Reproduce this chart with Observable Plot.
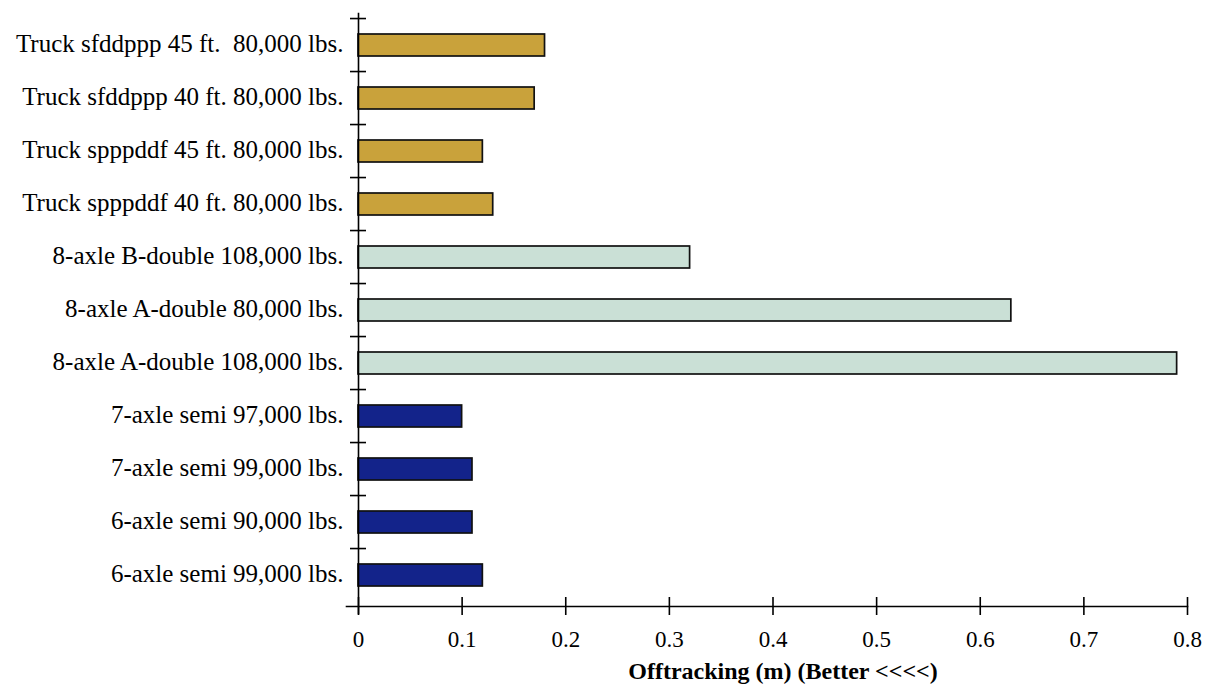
<!DOCTYPE html>
<html>
<head>
<meta charset="utf-8">
<script src="https://cdn.jsdelivr.net/npm/d3@7"></script>
<script src="https://cdn.jsdelivr.net/npm/@observablehq/plot@0.6"></script>
<style>
  html, body { margin: 0; padding: 0; background: #fff; }
</style>
</head>
<body>
<div id="chart"></div>
<script>
const categories = [
  "Truck sfddppp 45 ft.  80,000 lbs.",
  "Truck sfddppp 40 ft. 80,000 lbs.",
  "Truck spppddf 45 ft. 80,000 lbs.",
  "Truck spppddf 40 ft. 80,000 lbs.",
  "8-axle B-double 108,000 lbs.",
  "8-axle A-double 80,000 lbs.",
  "8-axle A-double 108,000 lbs.",
  "7-axle semi 97,000 lbs.",
  "7-axle semi 99,000 lbs.",
  "6-axle semi 90,000 lbs.",
  "6-axle semi 99,000 lbs."
];
const values = [0.18, 0.17, 0.12, 0.13, 0.32, 0.63, 0.79, 0.10, 0.11, 0.11, 0.12];
const groups = ["truck", "truck", "truck", "truck", "double", "double", "double", "semi", "semi", "semi", "semi"];
const groupNames = ["truck", "double", "semi"];
const groupColors = ["#C9A23B", "#CAE0D6", "#13238A"];
const xTicks = [0, 0.1, 0.2, 0.3, 0.4, 0.5, 0.6, 0.7, 0.8];
const xLabel = "Offtracking (m) (Better <<<<)";

const data = categories.map((c, i) => ({category: c, value: values[i], group: groups[i]}));

const W = 1207, H = 684, mL = 358, mR = 20, mT = 13, mB = 78;
const step = (H - mT - mB) / categories.length;

const chart = Plot.plot({
  width: W, height: H,
  marginLeft: mL, marginRight: mR, marginTop: mT, marginBottom: mB,
  style: {fontFamily: "'Liberation Serif', serif", fontSize: "23px", color: "#000", background: "#fff", overflow: "visible"},
  x: {domain: [0, 0.8], label: null},
  y: {domain: categories, paddingInner: 0.585, paddingOuter: 0.2925, label: null},
  color: {domain: groupNames, range: groupColors},
  marks: [
    Plot.barX(data, {x: "value", y: "category", fill: "group", stroke: "#111", strokeWidth: 1.7}),
    Plot.frame({anchor: "bottom", insetLeft: -12, strokeWidth: 1.6}),
    Plot.frame({anchor: "left", insetBottom: -7, strokeWidth: 1.6}),
    Plot.axisX({ticks: xTicks, tickSize: 18, dy: -9, tickFormat: () => "", label: null, strokeWidth: 1.6}),
    Plot.axisX({ticks: xTicks, tickSize: 0, tickPadding: 24, fontSize: 23, tickFormat: d => String(d), label: null}),
    Plot.text([xLabel], {text: d => d, frameAnchor: "bottom", lineAnchor: "middle", dx: 10, dy: 65, fontSize: 24, fontWeight: "bold"}),
    Plot.axisY({tickSize: 16, dx: 8, dy: -step / 2, tickFormat: () => "", label: null, strokeWidth: 1.6}),
    Plot.axisY({tickSize: 0, tickPadding: 15, fontSize: 25, dy: -2, label: null})
  ]
});
document.getElementById("chart").appendChild(chart);
d3.select(chart).selectAll("text").style("white-space", "pre");
</script>
</body>
</html>
